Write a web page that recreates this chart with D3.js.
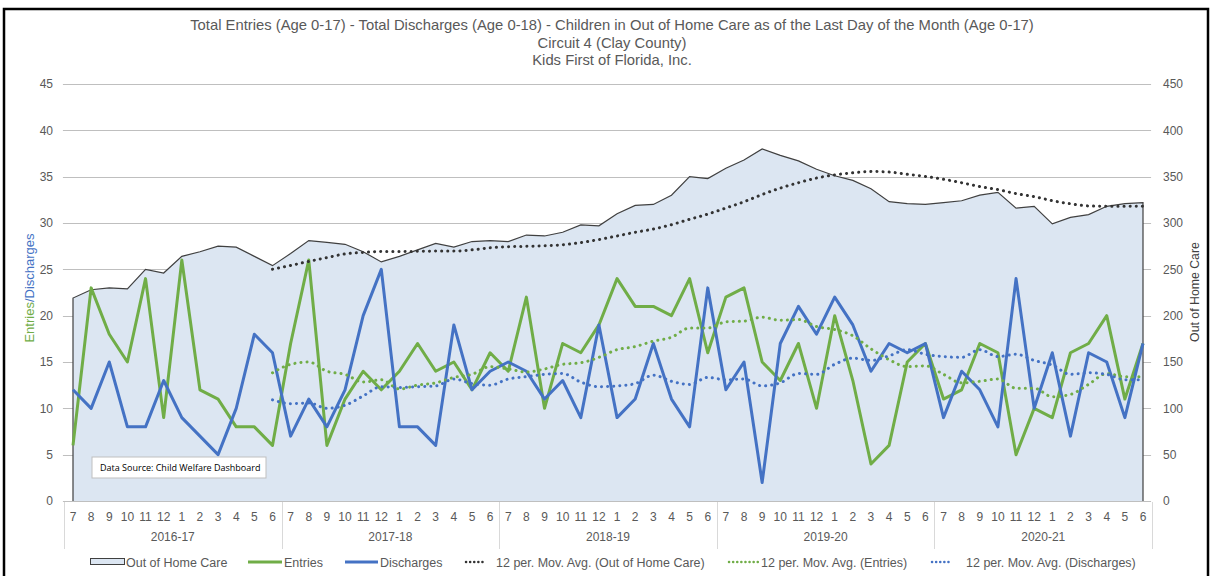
<!DOCTYPE html>
<html>
<head>
<meta charset="utf-8">
<script src="https://cdn.jsdelivr.net/npm/d3@7"></script>
<style>
  html, body { margin: 0; padding: 0; background: #fff; }
  svg { display: block; font-family: "Liberation Sans", Arial, sans-serif; }
</style>
</head>
<body>
<svg id="chart" width="1212" height="576"></svg>
<script>
// Fiscal years (July–June) and the month labels shown under each point
const fiscalYears = ["2016-17", "2017-18", "2018-19", "2019-20", "2020-21"];
const monthLabels = ["7", "8", "9", "10", "11", "12", "1", "2", "3", "4", "5", "6"];

// Monthly counts, Jul 2016 – Jun 2021
const entries = [
  6, 23, 18, 15, 24, 9, 26, 12, 11, 8, 8, 6,
  17, 26, 6, 11, 14, 12, 14, 17, 14, 15, 12, 16,
  14, 22, 10, 17, 16, 19, 24, 21, 21, 20, 24, 16,
  22, 23, 15, 13, 17, 10, 20, 13, 4, 6, 15, 17,
  11, 12, 17, 16, 5, 10, 9, 16, 17, 20, 11, 17
];
const discharges = [
  12, 10, 15, 8, 8, 13, 9, 7, 5, 10, 18, 16,
  7, 11, 8, 12, 20, 25, 8, 8, 6, 19, 12, 14,
  15, 14, 11, 13, 9, 19, 9, 11, 17, 11, 8, 23,
  12, 15, 2, 17, 21, 18, 22, 19, 14, 17, 16, 17,
  9, 14, 12, 8, 24, 10, 16, 7, 16, 15, 9, 17
];
const outOfHomeCare = [
  219, 228, 230, 229, 250, 246, 264, 269, 275, 274, 264, 254,
  267, 281, 279, 277, 269, 258, 264, 271, 278, 274, 280, 281,
  280, 287, 286, 290, 298, 297, 310, 319, 320, 330, 350, 348,
  359, 368, 380, 373, 367, 358, 351, 346, 337, 323, 321, 320,
  322, 324, 330, 333, 316, 318, 299, 306, 309, 318, 321, 322
];

const leftTicks = [0, 5, 10, 15, 20, 25, 30, 35, 40, 45];
const rightTicks = [0, 50, 100, 150, 200, 250, 300, 350, 400, 450];
const titleLines = [
  "Total Entries (Age 0-17) - Total Discharges (Age 0-18) - Children in Out of Home Care as of the Last Day of the Month (Age 0-17)",
  "Circuit 4 (Clay County)",
  "Kids First of Florida, Inc."
];
const sourceNote = "Data Source: Child Welfare Dashboard";
const MA_PERIOD = 12;

// Colours
const C = {
  text: "#595959",
  grid: "#bfbfbf",
  area: "#dce6f2",
  outline: "#404040",
  green: "#70ad47",
  blue: "#4472c4",
  maDark: "#333333",
  sep: "#d9d9d9"
};

const svg = d3.select("#chart");
const W = 1212, H = 576;
svg.append("rect").attr("width", W).attr("height", H).attr("fill", "#fff");

// Plot geometry
const plot = { left: 73, right: 1143, top: 84, bottom: 501 };
const idx = d3.range(entries.length);
const x = d3.scalePoint().domain(idx).range([plot.left, plot.right]);
const step = x.step();
const yL = d3.scaleLinear().domain([0, 45]).range([plot.bottom, plot.top]);
const yR = d3.scaleLinear().domain([0, 450]).range([plot.bottom, plot.top]);

// Trailing moving average (trendline), defined from the 12th point onward
function movingAvg(arr, n) {
  return arr.map((v, i) => i < n - 1 ? null : d3.mean(arr.slice(i - n + 1, i + 1)));
}
const maOOHC = movingAvg(outOfHomeCare, MA_PERIOD);
const maEntries = movingAvg(entries, MA_PERIOD);
const maDischarges = movingAvg(discharges, MA_PERIOD);

// Outer frame
svg.append("rect")
  .attr("x", 4).attr("y", 9).attr("width", W - 8).attr("height", H + 10)
  .attr("fill", "none").attr("stroke", "#000").attr("stroke-width", 2.5);

// Title
svg.append("g").selectAll("text").data(titleLines).join("text")
  .attr("x", 612).attr("y", (d, i) => 30 + i * 17.5)
  .attr("text-anchor", "middle").attr("font-size", 14.8).attr("fill", C.text)
  .text(d => d);

// Gridlines
const gridX0 = plot.left - step / 2 - 1, gridX1 = plot.right + step / 2 - 1;
svg.append("g").selectAll("line").data(leftTicks).join("line")
  .attr("x1", gridX0).attr("x2", gridX1)
  .attr("y1", d => Math.round(yL(d)) + 0.5).attr("y2", d => Math.round(yL(d)) + 0.5)
  .attr("stroke", C.grid).attr("stroke-width", 1);

// Left axis ticks
const leftAxis = d3.axisLeft(yL).tickValues(leftTicks).tickSize(0).tickPadding(0);
svg.append("g").attr("transform", `translate(${plot.left - 20},0)`).call(leftAxis)
  .call(g => g.select(".domain").remove())
  .call(g => g.selectAll("text").attr("font-size", 12).attr("fill", C.text)
    .attr("font-family", "'Liberation Sans', Arial, sans-serif"));

// Right axis ticks
const rightAxis = d3.axisRight(yR).tickValues(rightTicks).tickSize(0).tickPadding(0);
svg.append("g").attr("transform", `translate(${plot.right + 20},0)`).call(rightAxis)
  .call(g => g.select(".domain").remove())
  .call(g => g.selectAll("text").attr("font-size", 12).attr("fill", C.text)
    .attr("font-family", "'Liberation Sans', Arial, sans-serif"));

// Out of Home Care area (right axis)
const area = d3.area().x((d, i) => x(i)).y0(yR(0)).y1(d => yR(d));
svg.append("path").datum(outOfHomeCare).attr("d", area).attr("fill", C.area);
const outline = d3.line().x(d => d[0]).y(d => d[1]);
const outlinePts = [[x(0), yR(0)]]
  .concat(outOfHomeCare.map((d, i) => [x(i), yR(d)]))
  .concat([[x(idx.length - 1), yR(0)]]);
svg.append("path").datum(outlinePts).attr("d", outline)
  .attr("fill", "none").attr("stroke", C.outline).attr("stroke-width", 1.2);

// Series lines
const lineL = d3.line().x((d, i) => x(i)).y(d => yL(d));
svg.append("path").datum(entries).attr("d", lineL)
  .attr("fill", "none").attr("stroke", C.green).attr("stroke-width", 3).attr("stroke-linejoin", "round");
svg.append("path").datum(discharges).attr("d", lineL)
  .attr("fill", "none").attr("stroke", C.blue).attr("stroke-width", 3).attr("stroke-linejoin", "round");

// Moving-average trendlines (dotted)
function drawMA(values, scale, color) {
  const ln = d3.line()
    .defined(d => d !== null)
    .x((d, i) => x(i)).y(d => scale(d))
    .curve(d3.curveMonotoneX);
  svg.append("path").datum(values).attr("d", ln)
    .attr("fill", "none").attr("stroke", color).attr("stroke-width", 3)
    .attr("stroke-linecap", "round").attr("stroke-dasharray", "0.1 6");
}
drawMA(maOOHC, yR, C.maDark);
drawMA(maEntries, yL, C.green);
drawMA(maDischarges, yL, C.blue);

// Data source note
const note = svg.append("g").attr("transform", "translate(92,457)");
note.append("rect").attr("width", 174).attr("height", 21)
  .attr("fill", "#fff").attr("stroke", "#bfbfbf").attr("stroke-width", 1);
note.append("text").attr("x", 8).attr("y", 14).attr("font-size", 9)
  .attr("font-family", "'Open Sans', 'Liberation Sans', sans-serif").attr("fill", "#000")
  .text(sourceNote);

// Category axis: months and fiscal years
const catG = svg.append("g");
catG.selectAll("text.m").data(idx).join("text").attr("class", "m")
  .attr("x", i => x(i)).attr("y", 521)
  .attr("text-anchor", "middle").attr("font-size", 12).attr("fill", C.text)
  .text(i => monthLabels[i % 12]);
catG.selectAll("text.y").data(fiscalYears).join("text").attr("class", "y")
  .attr("x", (d, k) => x(k * 12) - step / 2 + 6 * step)
  .attr("y", 541)
  .attr("text-anchor", "middle").attr("font-size", 12).attr("fill", C.text)
  .text(d => d);
catG.selectAll("line").data(d3.range(fiscalYears.length + 1)).join("line")
  .attr("x1", k => Math.round(x(0) - step / 2 + k * 12 * step) + 0.5)
  .attr("x2", k => Math.round(x(0) - step / 2 + k * 12 * step) + 0.5)
  .attr("y1", plot.bottom + 1).attr("y2", 549)
  .attr("stroke", C.sep).attr("stroke-width", 1);

// Axis titles
const lt = svg.append("text")
  .attr("transform", "translate(34,288) rotate(-90)")
  .attr("text-anchor", "middle").attr("font-size", 13);
lt.append("tspan").attr("fill", C.green).text("Entries");
lt.append("tspan").attr("fill", C.blue).text("/Discharges");
svg.append("text")
  .attr("transform", "translate(1199,292) rotate(-90)")
  .attr("text-anchor", "middle").attr("font-size", 12.3).attr("fill", "#404040")
  .text("Out of Home Care");

// Legend
const ly = 562;
const leg = svg.append("g").attr("font-size", 12.5).attr("fill", C.text);
leg.append("rect").attr("x", 90.5).attr("y", ly - 3.5).attr("width", 34).attr("height", 6)
  .attr("fill", C.area).attr("stroke", C.outline).attr("stroke-width", 1);
leg.append("text").attr("x", 126).attr("y", ly + 4.5).text("Out of Home Care");
leg.append("line").attr("x1", 248).attr("x2", 282).attr("y1", ly).attr("y2", ly)
  .attr("stroke", C.green).attr("stroke-width", 3);
leg.append("text").attr("x", 284).attr("y", ly + 4.5).text("Entries");
leg.append("line").attr("x1", 345).attr("x2", 378).attr("y1", ly).attr("y2", ly)
  .attr("stroke", C.blue).attr("stroke-width", 3);
leg.append("text").attr("x", 380).attr("y", ly + 4.5).text("Discharges");
const dotLeg = (x1, x2, color) => leg.append("line").attr("x1", x1).attr("x2", x2)
  .attr("y1", ly).attr("y2", ly).attr("stroke", color).attr("stroke-width", 2.5)
  .attr("stroke-linecap", "round").attr("stroke-dasharray", "0.1 4");
dotLeg(466, 484, C.maDark);
leg.append("text").attr("x", 496).attr("y", ly + 4.5).text("12 per. Mov. Avg. (Out of Home Care)");
dotLeg(729, 758, C.green);
leg.append("text").attr("x", 761).attr("y", ly + 4.5).text("12 per. Mov. Avg. (Entries)");
dotLeg(932, 952, C.blue);
leg.append("text").attr("x", 966).attr("y", ly + 4.5).text("12 per. Mov. Avg. (Discharges)");
</script>
</body>
</html>
